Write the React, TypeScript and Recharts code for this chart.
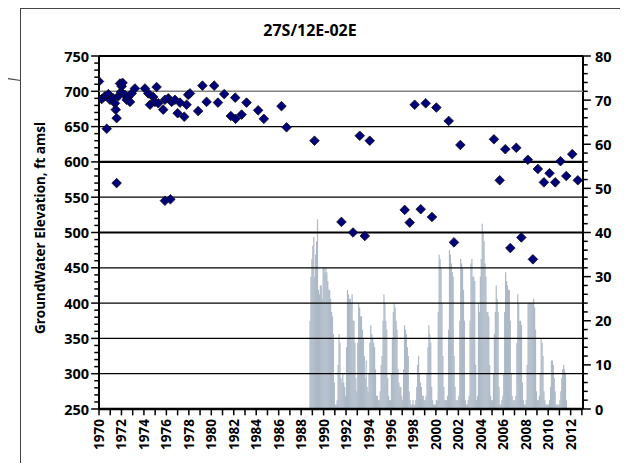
import React from "react";
import { ComposedChart, Bar, Scatter, XAxis, YAxis, ReferenceLine } from "recharts";

// groundwater elevation readings (decimal year, ft amsl)
const elevYears = [
  1970.0, 1970.24, 1970.53, 1970.69, 1970.83, 1970.98, 1971.27, 1971.42, 1971.49, 1971.57,
  1971.57, 1971.72, 1971.87, 1971.96, 1972.02, 1972.1, 1972.31, 1972.46, 1972.61, 1972.76,
  1972.91, 1973.2, 1974.09, 1974.39, 1974.54, 1974.83, 1974.98, 1975.13, 1975.28, 1975.72,
  1975.87, 1975.87, 1976.17, 1976.36, 1976.47, 1976.76, 1977.0, 1977.21, 1977.59, 1977.8,
  1977.94, 1978.1, 1978.83, 1979.21, 1979.58, 1980.26, 1980.59, 1981.15, 1981.74, 1982.13,
  1982.16, 1982.7, 1983.14, 1984.17, 1984.68, 1986.25, 1986.7, 1989.19, 1991.59, 1992.62,
  1993.22, 1993.67, 1994.11, 1997.22, 1997.67, 1998.11, 1998.65, 1999.09, 1999.65, 2000.04,
  2001.14, 2001.61, 2002.18, 2005.17, 2005.68, 2006.18, 2006.63, 2007.16, 2007.61, 2008.19,
  2008.64, 2009.08, 2009.62, 2010.12, 2010.63, 2011.1, 2011.61, 2012.14, 2012.64,
];
const elevValues = [
  714, 689, 693, 647, 696, 688, 690, 683, 674, 662,
  570, 693, 711, 699, 707, 712, 695, 688, 692, 685,
  697, 704, 704, 697, 681, 692, 685, 706, 683, 674,
  688, 545, 690, 547, 685, 688, 669, 684, 664, 681,
  695, 697, 672, 708, 685, 708, 684, 696, 665, 691,
  661, 667, 684, 673, 661, 679, 649, 630, 515, 500,
  637, 495, 630, 532, 514, 681, 533, 683, 522, 677,
  658, 486, 624, 632, 574, 618, 478, 620, 493, 603,
  462, 590, 571, 584, 571, 601, 580, 611, 574,
];

// monthly values (right axis), Jan..Dec per year
const barYears = [
  1988, 1989, 1990, 1991, 1992, 1993, 1994, 1995, 1996, 1997, 1998, 1999,
  2000, 2001, 2002, 2003, 2004, 2005, 2006, 2007, 2008, 2009, 2010, 2011,
];
const monthly = [
  [0, 0, 0, 0, 0, 0, 0, 0, 0, 20, 30, 34],
  [37, 39, 30, 35, 38, 43, 27, 26, 28, 28, 25, 32],
  [32, 31, 32, 31, 29, 27, 27, 25, 22, 21, 17, 6],
  [1, 1, 2, 10, 17, 15, 7, 6, 8, 6, 5, 3],
  [14, 27, 26, 25, 25, 24, 26, 20, 20, 15, 7, 4],
  [15, 24, 23, 21, 21, 18, 16, 12, 7, 11, 5, 4],
  [8, 15, 19, 17, 16, 15, 14, 9, 3, 3, 2, 2],
  [4, 10, 12, 20, 26, 24, 20, 18, 7, 3, 2, 2],
  [8, 16, 22, 24, 23, 20, 18, 9, 6, 5, 5, 3],
  [2, 9, 19, 18, 17, 14, 12, 4, 2, 1, 1, 2],
  [1, 1, 2, 5, 10, 12, 8, 6, 5, 3, 3, 2],
  [2, 3, 8, 14, 19, 17, 15, 5, 2, 1, 1, 1],
  [2, 2, 22, 35, 34, 32, 24, 12, 5, 2, 2, 2],
  [3, 18, 36, 35, 33, 31, 30, 12, 5, 2, 2, 2],
  [3, 20, 34, 33, 32, 27, 20, 2, 1, 1, 2, 3],
  [20, 33, 34, 30, 30, 29, 10, 2, 3, 24, 22, 30],
  [34, 42, 40, 38, 33, 30, 22, 22, 21, 10, 3, 2],
  [2, 8, 17, 22, 28, 25, 22, 5, 1, 1, 2, 3],
  [8, 22, 31, 29, 28, 27, 27, 20, 8, 3, 2, 2],
  [2, 3, 15, 26, 24, 20, 20, 19, 6, 2, 1, 1],
  [2, 10, 24, 24, 24, 24, 24, 24, 25, 23, 18, 4],
  [2, 2, 3, 8, 16, 15, 12, 4, 2, 1, 1, 1],
  [1, 2, 5, 11, 11, 10, 7, 4, 1, 1, 1, 1],
  [2, 4, 7, 9, 10, 9, 8, 2, 0, 0, 0, 0],
];

const xLabelYears = [
  1970, 1972, 1974, 1976, 1978, 1980, 1982, 1984, 1986, 1988, 1990,
  1992, 1994, 1996, 1998, 2000, 2002, 2004, 2006, 2008, 2010, 2012,
];
const leftLabels = [250, 300, 350, 400, 450, 500, 550, 600, 650, 700, 750];
const rightLabels = [0, 10, 20, 30, 40, 50, 60, 70, 80];
const gridValues = [300, 350, 400, 450, 500, 550, 600, 650, 700, 750];

const yearTicks = Array.from({ length: 44 }, (_, i) => 1970 + i);
const leftTicks = Array.from({ length: 51 }, (_, i) => 250 + i * 10);
const rightTicks = Array.from({ length: 41 }, (_, i) => i * 2);

const barData = monthly.flatMap((row, i) =>
  row.map((v, m) => ({ x: barYears[i] + (m + 0.5) / 12, flow: v }))
);
const elevData = elevYears.map((x, i) => ({ x, elev: elevValues[i] }));

const FONT = "'Open Sans', 'DejaVu Sans', sans-serif";
const W = 628;
const H = 471;
const MARGIN = { top: 56, right: 45, bottom: 62, left: 99 };
const X_MIN = 1970;
const X_MAX = 2013.1;
const LEFT_DOMAIN = [250, 750];
const RIGHT_DOMAIN = [0, 80];
// tick-mark lengths, in axis units (plot is ~11.24 px per year, ~0.706 px per ft)
const Y_TICK_MAJOR = 0.7;
const Y_TICK_MINOR = 0.42;
const X_TICK = 9;

const renderXTick = (props: any) => {
  const x = Number(props.x);
  const y = Number(props.y);
  const year = props.payload.value;
  if (!xLabelYears.includes(year)) return <g />;
  return (
    <text
      x={x}
      y={y + 2}
      transform={`rotate(-90, ${x}, ${y + 2})`}
      textAnchor="end"
      dominantBaseline="central"
      fontFamily={FONT}
      fontWeight={700}
      fontSize={13.5}
      fill="#000"
    >
      {year}
    </text>
  );
};

const renderLeftTick = (props: any) => {
  const x = Number(props.x);
  const y = Number(props.y);
  if (!leftLabels.includes(props.payload.value)) return <g />;
  return (
    <text x={x - 2} y={y} textAnchor="end" dominantBaseline="central" fontFamily={FONT} fontWeight={700} fontSize={14.5} fill="#000">
      {props.payload.value}
    </text>
  );
};

const renderRightTick = (props: any) => {
  const x = Number(props.x);
  const y = Number(props.y);
  if (!rightLabels.includes(props.payload.value)) return <g />;
  return (
    <text x={x + 4} y={y} textAnchor="start" dominantBaseline="central" fontFamily={FONT} fontWeight={700} fontSize={14.5} fill="#000">
      {props.payload.value}
    </text>
  );
};

const ThinBar = (props: any) => {
  const { x, y, width, height } = props;
  if (!height || height <= 0) return null;
  return <rect x={x + width / 2 - 0.6} y={y} width={1.2} height={height} fill="#adb9c7" />;
};

const Diamond = (props: any) => {
  const { cx, cy } = props;
  const r = 4.8;
  return (
    <path
      d={`M${cx},${cy - r}L${cx + r},${cy}L${cx},${cy + r}L${cx - r},${cy}Z`}
      fill="#00007a"
      stroke="#111"
      strokeWidth={0.8}
    />
  );
};

const gridStyle = (v: number) => {
  if (v === 700) return { stroke: "#808080", strokeWidth: 1.5 };
  if (v === 600 || v === 500 || v === 750) return { stroke: "#000", strokeWidth: 2.2 };
  return { stroke: "#000", strokeWidth: 1.2 };
};

export default function App() {
  return (
    <div style={{ position: "relative", width: W, height: H, margin: -8, overflow: "hidden", background: "#fff" }}>
      <div
        style={{
          position: "absolute",
          left: 20,
          top: 8,
          width: 700,
          height: 500,
          borderLeft: "1.5px solid #444",
          borderTop: "1.5px solid #444",
        }}
      />
      <div
        style={{
          position: "absolute",
          left: 0,
          top: 77,
          width: 21,
          height: 1.2,
          background: "#444",
          transform: "rotate(8deg)",
          transformOrigin: "0 0",
        }}
      />
      <div
        style={{
          position: "absolute",
          left: 0,
          top: 19,
          width: 620,
          textAlign: "center",
          fontFamily: FONT,
          fontWeight: 700,
          fontSize: 16,
        }}
      >
        27S/12E-02E
      </div>
      <div
        style={{
          position: "absolute",
          left: 40,
          top: 228,
          transform: "translate(-50%, -50%) rotate(-90deg)",
          whiteSpace: "nowrap",
          fontFamily: FONT,
          fontWeight: 700,
          fontSize: 13.5,
        }}
      >
        GroundWater Elevation, ft amsl
      </div>

      {/* base layer: axes, labels and monthly bars */}
      <div style={{ position: "absolute", left: 0, top: 0 }}>
        <ComposedChart width={W} height={H} data={barData} margin={{ top: MARGIN.top, right: 0, bottom: 0, left: 0 }}>
          <XAxis
            dataKey="x"
            type="number"
            domain={[X_MIN, X_MAX]}
            ticks={yearTicks}
            interval={0}
            allowDataOverflow
            tick={renderXTick}
            tickLine={false}
            tickSize={8}
            tickMargin={0}
            axisLine={{ stroke: "#000", strokeWidth: 2.5 }}
            height={MARGIN.bottom}
          />
          <YAxis
            yAxisId="left"
            orientation="left"
            type="number"
            domain={LEFT_DOMAIN}
            ticks={leftTicks}
            interval={0}
            allowDataOverflow
            tick={renderLeftTick}
            tickLine={false}
            tickSize={8}
            tickMargin={0}
            axisLine={{ stroke: "#000", strokeWidth: 2 }}
            width={MARGIN.left}
          />
          <YAxis
            yAxisId="right"
            orientation="right"
            type="number"
            domain={RIGHT_DOMAIN}
            ticks={rightTicks}
            interval={0}
            allowDataOverflow
            tick={renderRightTick}
            tickLine={false}
            tickSize={8}
            tickMargin={0}
            axisLine={{ stroke: "#000", strokeWidth: 2 }}
            width={MARGIN.right}
          />
          <Bar yAxisId="right" dataKey="flow" shape={<ThinBar />} isAnimationActive={false} />
        </ComposedChart>
      </div>

      {/* top layer: gridlines over the bars, tick marks, then the elevation points */}
      <div style={{ position: "absolute", left: 0, top: 0, pointerEvents: "none" }}>
        <ComposedChart width={W} height={H} data={elevData} margin={MARGIN}>
          <XAxis dataKey="x" type="number" domain={[X_MIN, X_MAX]} allowDataOverflow hide />
          <YAxis yAxisId="left" type="number" domain={LEFT_DOMAIN} allowDataOverflow hide />
          <YAxis yAxisId="right" orientation="right" type="number" domain={RIGHT_DOMAIN} allowDataOverflow hide />
          {gridValues.map((v) => (
            <ReferenceLine key={`g${v}`} yAxisId="left" y={v} {...gridStyle(v)} />
          ))}
          {leftTicks.map((v) => (
            <ReferenceLine
              key={`l${v}`}
              yAxisId="left"
              ifOverflow="visible"
              stroke="#000"
              strokeWidth={1.5}
              segment={[
                { x: X_MIN - (leftLabels.includes(v) ? Y_TICK_MAJOR : Y_TICK_MINOR), y: v },
                { x: X_MIN, y: v },
              ]}
            />
          ))}
          {rightTicks.map((v) => (
            <ReferenceLine
              key={`r${v}`}
              yAxisId="right"
              ifOverflow="visible"
              stroke="#000"
              strokeWidth={1.5}
              segment={[
                { x: X_MAX, y: v },
                { x: X_MAX + (rightLabels.includes(v) ? Y_TICK_MAJOR : Y_TICK_MINOR), y: v },
              ]}
            />
          ))}
          {yearTicks.map((yr) => (
            <ReferenceLine
              key={`x${yr}`}
              yAxisId="left"
              ifOverflow="visible"
              stroke="#000"
              strokeWidth={1.5}
              segment={[
                { x: yr, y: LEFT_DOMAIN[0] },
                { x: yr, y: LEFT_DOMAIN[0] - X_TICK },
              ]}
            />
          ))}
          <Scatter yAxisId="left" data={elevData} dataKey="elev" shape={<Diamond />} isAnimationActive={false} />
        </ComposedChart>
      </div>
    </div>
  );
}
